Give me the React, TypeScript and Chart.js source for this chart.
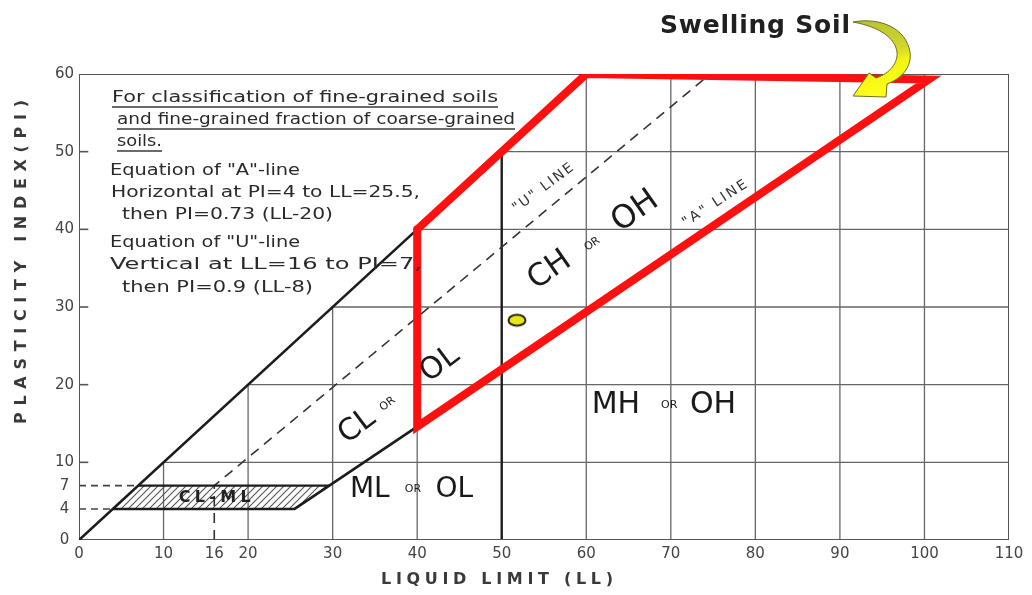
import React, { useEffect, useRef } from "react";
import { Chart, registerables } from "chart.js";

Chart.register(...registerables);

// ---- axes ----
const llTicks = [0, 10, 16, 20, 30, 40, 50, 60, 70, 80, 90, 100, 110];
const piTicks = [0, 4, 7, 10, 20, 30, 40, 50, 60];
const llGrid = [10, 20, 30, 40, 50, 60, 70, 80, 90, 100];
const piGrid = [10, 20, 30, 40, 50];
const LL_MAX = 110;
const PI_MAX = 60;

// ---- boundary lines, as [LL, PI] vertices ----
const upperLimitLine = [[0, 0], [40, 40]];
const aLine = [[4, 4], [25.5, 4], [40, 14.6]];
const clmlTopLine = [[7, 7], [29.6, 7]];
const uLine = [[16, 0], [16, 7], [74, 59.4]];
const pi7Guide = [[0, 7], [7, 7]];
const pi4Guide = [[0, 4], [4, 4]];
const clmlZone = [[4, 4], [25.5, 4], [29.6, 7], [7, 7], [4, 4]];
const swellingZone = [[40, 40], [60, 60], [100.5, 59.3], [40, 14.6], [40, 40]];

// ---- tested sample ----
const sampleLL = [51.8];
const samplePI = [28.3];

// ---- text ----
const noteLines = [
  { text: "For classification of fine-grained soils", x: 112, y: 98, w: 386, underline: true },
  { text: "and fine-grained fraction of coarse-grained", x: 117, y: 120, w: 398, underline: true },
  { text: "soils.", x: 117, y: 142, w: 45, underline: true },
  { text: 'Equation of "A"-line', x: 110, y: 171, w: 190, underline: false },
  { text: "Horizontal at PI=4 to LL=25.5,", x: 111, y: 193, w: 309, underline: false },
  { text: "then PI=0.73 (LL-20)", x: 122, y: 215, w: 211, underline: false },
  { text: 'Equation of "U"-line', x: 110, y: 243, w: 190, underline: false },
  { text: "Vertical at LL=16 to PI=7,", x: 110, y: 265, w: 312, underline: false },
  { text: "then PI=0.9 (LL-8)", x: 122, y: 288, w: 191, underline: false },
];

const zoneLabels = [
  { text: "CH", ll: 55.7, pi: 34.7, size: 31, angle: -35 },
  { text: "OR", ll: 60.7, pi: 38.1, size: 11, angle: -35 },
  { text: "OH", ll: 65.8, pi: 42.3, size: 32, angle: -35 },
  { text: "CL", ll: 32.9, pi: 14.6, size: 30, angle: -37 },
  { text: "OR", ll: 36.5, pi: 17.5, size: 11, angle: -37 },
  { text: "OL", ll: 42.7, pi: 22.6, size: 30, angle: -37 },
  { text: "MH", ll: 63.5, pi: 17.3, size: 30, angle: 0 },
  { text: "OR", ll: 69.8, pi: 17.3, size: 11, angle: 0 },
  { text: "OH", ll: 75.0, pi: 17.3, size: 30, angle: 0 },
  { text: "ML", ll: 34.4, pi: 6.5, size: 28, angle: 0 },
  { text: "OR", ll: 39.5, pi: 6.5, size: 11, angle: 0 },
  { text: "OL", ll: 44.4, pi: 6.5, size: 28, angle: 0 },
];

const lineLabels = [
  { text: '"U" LINE', ll: 54.9, pi: 45.3, w: 72, angle: -37 },
  { text: '"A" LINE', ll: 75.2, pi: 43.3, w: 74, angle: -33 },
];

const pts = (v: number[][]) => v.map(([x, y]) => ({ x, y }));

function lineDs(data: number[][], color: string, width: number, extra: any = {}) {
  return {
    data: pts(data),
    showLine: true,
    borderColor: color,
    borderWidth: width,
    pointRadius: 0,
    pointHoverRadius: 0,
    fill: false,
    tension: 0,
    borderCapStyle: "butt",
    ...extra,
  };
}

// Draws text starting at x so that the run is `width` wide, either by
// spreading the letters or by stretching the glyphs.
function fitText(
  ctx: CanvasRenderingContext2D,
  text: string,
  x: number,
  y: number,
  width?: number,
  stretch = false
) {
  const c: any = ctx;
  c.letterSpacing = "0px";
  const natural = ctx.measureText(text).width;
  ctx.textAlign = "left";
  if (width && text.length > 1) {
    if (!stretch && "letterSpacing" in c) {
      c.letterSpacing = `${(width - natural) / (text.length - 1)}px`;
      ctx.fillText(text, x, y);
      c.letterSpacing = "0px";
    } else {
      ctx.save();
      ctx.translate(x, y);
      ctx.scale(width / natural, 1);
      ctx.fillText(text, 0, 0);
      ctx.restore();
    }
  } else {
    ctx.fillText(text, x, y);
  }
}

const annotationPlugin = {
  id: "plasticityAnnotations",
  afterDraw(chart: any) {
    const { ctx } = chart;
    const xs = chart.scales.x;
    const ys = chart.scales.y;
    const px = (v: number) => xs.getPixelForValue(v);
    const py = (v: number) => ys.getPixelForValue(v);
    ctx.save();
    ctx.textBaseline = "middle";

    // notes box
    ctx.fillStyle = "#2a2a2a";
    ctx.strokeStyle = "#3a3a3a";
    ctx.lineWidth = 1.3;
    ctx.font = "16px 'DejaVu Sans'";
    for (const l of noteLines) {
      fitText(ctx, l.text, l.x, l.y, l.w, true);
      if (l.underline) {
        ctx.beginPath();
        ctx.moveTo(l.x, l.y + 9);
        ctx.lineTo(l.x + l.w, l.y + 9);
        ctx.stroke();
      }
    }

    // zone labels
    ctx.fillStyle = "#1a1a1a";
    for (const z of zoneLabels) {
      ctx.save();
      ctx.translate(px(z.ll), py(z.pi));
      ctx.rotate((z.angle * Math.PI) / 180);
      ctx.font = `${z.size}px 'DejaVu Sans'`;
      ctx.textAlign = "center";
      ctx.fillText(z.text, 0, 0);
      ctx.restore();
    }

    // line names
    ctx.fillStyle = "#333";
    ctx.font = "14px 'DejaVu Sans'";
    for (const l of lineLabels) {
      ctx.save();
      ctx.translate(px(l.ll), py(l.pi));
      ctx.rotate((l.angle * Math.PI) / 180);
      fitText(ctx, l.text, -l.w / 2, 0, l.w);
      ctx.restore();
    }

    // CL-ML band name
    ctx.fillStyle = "#222";
    ctx.font = "bold 16px 'DejaVu Sans'";
    fitText(ctx, "CL-ML", px(11.8), py(5.4), 72);

    // axis titles
    ctx.fillStyle = "#3a3a3a";
    ctx.font = "bold 16px 'DejaVu Sans'";
    fitText(ctx, "LIQUID LIMIT (LL)", 381, 580, 232);
    ctx.save();
    ctx.translate(22, 262);
    ctx.rotate(-Math.PI / 2);
    fitText(ctx, "PLASTICITY INDEX(PI)", -162, 0, 324);
    ctx.restore();

    // swelling soil callout
    ctx.fillStyle = "#202020";
    ctx.font = "bold 25px 'DejaVu Sans'";
    ctx.textBaseline = "alphabetic";
    fitText(ctx, "Swelling Soil", 660, 33, 190);

    const grad = ctx.createLinearGradient(860, 20, 880, 98);
    grad.addColorStop(0, "#b7c232");
    grad.addColorStop(0.45, "#cfd62c");
    grad.addColorStop(0.6, "#f3f312");
    grad.addColorStop(1, "#ffff1a");
    ctx.beginPath();
    ctx.moveTo(853, 22);
    ctx.bezierCurveTo(880, 17, 906, 28, 910, 52);
    ctx.bezierCurveTo(912, 66, 903, 78, 887, 84);
    ctx.lineTo(886, 97);
    ctx.lineTo(853, 96);
    ctx.lineTo(869, 73);
    ctx.lineTo(876, 78);
    ctx.bezierCurveTo(891, 73, 898, 62, 897, 52);
    ctx.bezierCurveTo(895, 38, 880, 27, 853, 22);
    ctx.closePath();
    ctx.fillStyle = grad;
    ctx.fill();
    ctx.strokeStyle = "#6d6d24";
    ctx.lineWidth = 1;
    ctx.stroke();

    ctx.restore();
  },
};

export default function App() {
  const canvasRef = useRef<HTMLCanvasElement | null>(null);

  useEffect(() => {
    const canvas = canvasRef.current;
    if (!canvas) return;
    const ctx = canvas.getContext("2d")!;

    // diagonal hatch for the CL-ML band
    const hatch = document.createElement("canvas");
    hatch.width = 7;
    hatch.height = 7;
    const h = hatch.getContext("2d")!;
    h.strokeStyle = "#555";
    h.lineWidth = 1.1;
    h.beginPath();
    h.moveTo(-1, 8);
    h.lineTo(8, -1);
    h.moveTo(-1, 1);
    h.lineTo(1, -1);
    h.moveTo(6, 8);
    h.lineTo(8, 6);
    h.stroke();
    const hatchPattern = ctx.createPattern(hatch, "repeat");

    // yellow oval marker
    const dot = document.createElement("canvas");
    dot.width = 22;
    dot.height = 16;
    const d = dot.getContext("2d")!;
    d.beginPath();
    d.ellipse(11, 8, 8.5, 5.5, 0, 0, Math.PI * 2);
    d.fillStyle = "#e6e619";
    d.fill();
    d.lineWidth = 2;
    d.strokeStyle = "#25250e";
    d.stroke();

    const gridColor = "#666";
    const datasets: any[] = [
      {
        data: sampleLL.map((x, i) => ({ x, y: samplePI[i] })),
        pointStyle: dot,
        pointRadius: 9,
        pointHoverRadius: 9,
        showLine: false,
        order: 0,
      },
      lineDs(swellingZone, "#ff1010", 8, { order: 1, borderJoinStyle: "miter", borderCapStyle: "round" }),
      lineDs(upperLimitLine, "#1c1c1c", 2.6, { order: 2 }),
      lineDs(aLine, "#1c1c1c", 2.6, { order: 2 }),
      lineDs(clmlTopLine, "#1c1c1c", 2.4, { order: 2 }),
      lineDs([[0, 0], [0, PI_MAX], [LL_MAX, PI_MAX], [LL_MAX, 0], [0, 0]], "#555", 2, {
        order: 2,
        borderCapStyle: "square",
      }),
      lineDs(uLine, "#333", 1.6, { order: 3, borderDash: [10, 7] }),
      lineDs(pi7Guide, "#444", 1.6, { order: 3, borderDash: [7, 5] }),
      lineDs(pi4Guide, "#444", 1.6, { order: 3, borderDash: [7, 5] }),
      lineDs(clmlZone, "rgba(0,0,0,0)", 0, { order: 4, fill: "shape", backgroundColor: hatchPattern }),
      ...llGrid.map((v) =>
        lineDs([[v, 0], [v, Math.min(v, PI_MAX)]], v === 50 ? "#1e1e1e" : gridColor, v === 50 ? 2.4 : 1.3, { order: 5 })
      ),
      ...piGrid.map((v) => lineDs([[v, v], [LL_MAX, v]], gridColor, 1.3, { order: 5 })),
      ...piGrid.map((v) => lineDs([[0, v], [1.1, v]], "#555", 1.6, { order: 5 })),
    ];

    const tickFont = { family: "'DejaVu Sans'", size: 15 };
    const chart = new Chart(canvas, {
      type: "scatter",
      data: { datasets },
      plugins: [annotationPlugin],
      options: {
        animation: false,
        responsive: false,
        devicePixelRatio: 1,
        events: [],
        layout: { padding: { top: 74, right: 23, left: 0, bottom: 0 } },
        plugins: { legend: { display: false }, tooltip: { enabled: false } },
        scales: {
          x: {
            type: "linear",
            min: 0,
            max: LL_MAX,
            afterBuildTicks: (s: any) => {
              s.ticks = llTicks.map((value) => ({ value }));
            },
            afterFit: (s: any) => {
              s.height = 55;
            },
            grid: { display: false, drawTicks: false },
            border: { display: false },
            ticks: { autoSkip: false, maxRotation: 0, padding: 5, color: "#444", font: tickFont },
          },
          y: {
            type: "linear",
            min: 0,
            max: PI_MAX,
            afterBuildTicks: (s: any) => {
              s.ticks = piTicks.map((value) => ({ value }));
            },
            afterFit: (s: any) => {
              s.width = 79;
            },
            grid: { display: false, drawTicks: false },
            border: { display: false },
            ticks: { autoSkip: false, padding: 5, crossAlign: "center", color: "#444", font: tickFont },
          },
        },
      } as any,
    });

    return () => chart.destroy();
  }, []);

  return (
    <div style={{ position: "fixed", left: 0, top: 0, width: 1032, height: 595, background: "#fff" }}>
      <canvas ref={canvasRef} width={1032} height={595} style={{ display: "block" }} />
    </div>
  );
}
